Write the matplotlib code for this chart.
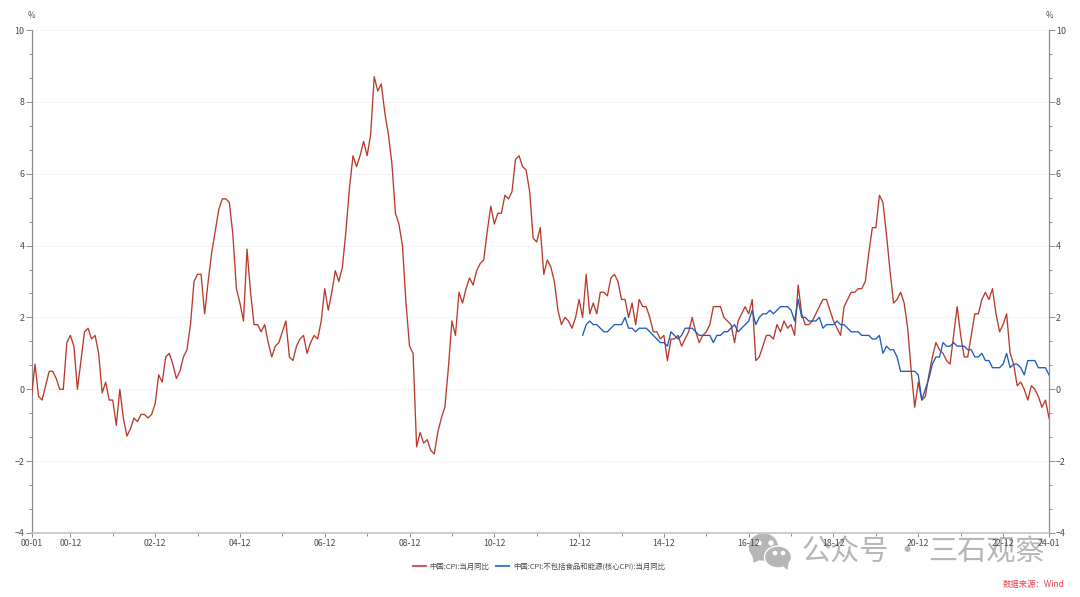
import matplotlib
matplotlib.use("Agg")
import matplotlib.pyplot as plt
from matplotlib.patches import Ellipse, Polygon
from matplotlib.ticker import FixedLocator, NullFormatter

plt.rcParams['font.family'] = ['Noto Sans CJK SC', 'DejaVu Sans']

cpi = [
    -0.2,0.7,-0.2,-0.3,0.1,0.5,0.5,0.3,0.0,0.0,1.3,1.5,
    1.2,0.0,0.8,1.6,1.7,1.4,1.5,1.0,-0.1,0.2,-0.3,-0.3,
    -1.0,0.0,-0.8,-1.3,-1.1,-0.8,-0.9,-0.7,-0.7,-0.8,-0.7,-0.4,
    0.4,0.2,0.9,1.0,0.7,0.3,0.5,0.9,1.1,1.8,3.0,3.2,
    3.2,2.1,3.0,3.8,4.4,5.0,5.3,5.3,5.2,4.3,2.8,2.4,
    1.9,3.9,2.7,1.8,1.8,1.6,1.8,1.3,0.9,1.2,1.3,1.6,
    1.9,0.9,0.8,1.2,1.4,1.5,1.0,1.3,1.5,1.4,1.9,2.8,
    2.2,2.7,3.3,3.0,3.4,4.4,5.6,6.5,6.2,6.5,6.9,6.5,
    7.1,8.7,8.3,8.5,7.7,7.1,6.3,4.9,4.6,4.0,2.4,1.2,
    1.0,-1.6,-1.2,-1.5,-1.4,-1.7,-1.8,-1.2,-0.8,-0.5,0.6,1.9,
    1.5,2.7,2.4,2.8,3.1,2.9,3.3,3.5,3.6,4.4,5.1,4.6,
    4.9,4.9,5.4,5.3,5.5,6.4,6.5,6.2,6.1,5.5,4.2,4.1,
    4.5,3.2,3.6,3.4,3.0,2.2,1.8,2.0,1.9,1.7,2.0,2.5,
    2.0,3.2,2.1,2.4,2.1,2.7,2.7,2.6,3.1,3.2,3.0,2.5,
    2.5,2.0,2.4,1.8,2.5,2.3,2.3,2.0,1.6,1.6,1.4,1.5,
    0.8,1.4,1.4,1.5,1.2,1.4,1.6,2.0,1.6,1.3,1.5,1.6,
    1.8,2.3,2.3,2.3,2.0,1.9,1.8,1.3,1.9,2.1,2.3,2.1,
    2.5,0.8,0.9,1.2,1.5,1.5,1.4,1.8,1.6,1.9,1.7,1.8,
    1.5,2.9,2.1,1.8,1.8,1.9,2.1,2.3,2.5,2.5,2.2,1.9,
    1.7,1.5,2.3,2.5,2.7,2.7,2.8,2.8,3.0,3.8,4.5,4.5,
    5.4,5.2,4.3,3.3,2.4,2.5,2.7,2.4,1.7,0.5,-0.5,0.2,
    -0.3,-0.2,0.4,0.9,1.3,1.1,1.0,0.8,0.7,1.5,2.3,1.5,
    0.9,0.9,1.5,2.1,2.1,2.5,2.7,2.5,2.8,2.1,1.6,1.8,
    2.1,1.0,0.7,0.1,0.2,0.0,-0.3,0.1,0.0,-0.2,-0.5,-0.3,
    -0.8,
]
core = [
    1.5,1.8,1.9,1.8,1.8,1.7,1.6,1.6,1.7,1.8,1.8,1.8,
    2.0,1.7,1.7,1.6,1.7,1.7,1.7,1.6,1.5,1.4,1.3,1.3,
    1.2,1.6,1.5,1.4,1.5,1.7,1.7,1.7,1.6,1.5,1.5,1.5,
    1.5,1.3,1.5,1.5,1.6,1.6,1.7,1.8,1.6,1.7,1.8,1.9,
    2.2,1.8,2.0,2.1,2.1,2.2,2.1,2.2,2.3,2.3,2.3,2.2,
    1.9,2.5,2.0,2.0,1.9,1.9,1.9,2.0,1.7,1.8,1.8,1.8,
    1.9,1.8,1.8,1.7,1.6,1.6,1.6,1.5,1.5,1.5,1.4,1.4,
    1.5,1.0,1.2,1.1,1.1,0.9,0.5,0.5,0.5,0.5,0.5,0.4,
    -0.3,0.0,0.3,0.7,0.9,0.9,1.3,1.2,1.2,1.3,1.2,1.2,
    1.2,1.1,1.1,0.9,0.9,1.0,0.8,0.8,0.6,0.6,0.6,0.7,
    1.0,0.6,0.7,0.7,0.6,0.4,0.8,0.8,0.8,0.6,0.6,0.6,
    0.4,
]
core_start = 156
x_cpi = list(range(len(cpi)))
x_core = list(range(core_start, core_start + len(core)))

x_label_pos = [0, 11, 35, 59, 83, 107, 131, 155, 179, 203, 227, 251, 275, 288]
x_labels = ['00-01', '00-12', '02-12', '04-12', '06-12', '08-12', '10-12', '12-12',
            '14-12', '16-12', '18-12', '20-12', '22-12', '24-01']
x_minor_pos = [23, 47, 71, 95, 119, 143, 167, 191, 215, 239, 263]
y_major = [-4, -2, 0, 2, 4, 6, 8, 10]
y_minor = [v / 3 for v in range(-12, 31, 2) if v % 3 != 0]
name_cpi = '中国:CPI:当月同比'
name_core = '中国:CPI:不包括食品和能源(核心CPI):当月同比'

W, H = 1080, 597
fig = plt.figure(figsize=(W / 100, H / 100), dpi=100, facecolor='white')
L, R, T, B = 31.5, 1049, 30, 533
ax = fig.add_axes([L / W, 1 - B / H, (R - L) / W, (B - T) / H], facecolor='none', zorder=2)
TXT = '#4a4a4a'
AX = '#8c8c8c'

ax.plot(x_cpi, cpi, color='#b93a2b', lw=0.95, label=name_cpi, zorder=3)
ax.plot(x_core, core, color='#1c5cbe', lw=0.95, label=name_core, zorder=4)
ax.set_xlim(0, 288)
ax.set_ylim(-4, 10)

ax.set_yticks(y_major)
ax.yaxis.set_minor_locator(FixedLocator(y_minor))
ax.grid(axis='y', which='major', color='#e9e9e9', lw=0.6, ls=(0, (2.5, 2)), zorder=0)
ax.tick_params(axis='y', which='major', length=4, width=0.7, color=AX, labelsize=6.4,
               labelcolor=TXT, pad=1, left=True, right=True, labelleft=True, labelright=True)
ax.tick_params(axis='y', which='minor', length=2.2, width=0.7, color=AX, left=True, right=True)

ax.set_xticks(x_label_pos)
ax.set_xticklabels(x_labels)
ax.xaxis.set_minor_locator(FixedLocator(x_minor_pos))
ax.xaxis.set_minor_formatter(NullFormatter())
ax.tick_params(axis='x', which='major', length=3, width=0.7, color=AX, labelsize=6.3,
               labelcolor=TXT, pad=1.5)
ax.tick_params(axis='x', which='minor', length=2.2, width=0.7, color=AX)

ax.spines['top'].set_visible(False)
for s in ('left', 'right'):
    ax.spines[s].set_color(AX)
    ax.spines[s].set_linewidth(0.9)
ax.spines['bottom'].set_color('#c4c4c4')
ax.spines['bottom'].set_linewidth(1.2)

leg = ax.legend(loc='center', bbox_to_anchor=((539 - L) / (R - L), (B - 566.5) / (B - T)),
                ncol=2, frameon=False, fontsize=5.35, labelcolor=TXT, handlelength=1.75,
                handletextpad=0.45, columnspacing=0.95, borderpad=0, borderaxespad=0)
for h in leg.get_lines():
    h.set_linewidth(1.5)
    h.set_alpha(0.8)

# underlay in pixel coordinates for annotations and watermark
ov = fig.add_axes([0, 0, 1, 1], facecolor='none', zorder=1)
ov.set_xlim(0, W)
ov.set_ylim(H, 0)
ov.axis('off')
ov.text(31, 15.5, '%', fontsize=5.8, color=TXT, ha='center', va='center')
ov.text(1049, 15.5, '%', fontsize=5.8, color=TXT, ha='center', va='center')
ov.text(1064.5, 584, '数据来源：Wind', fontsize=6, color='#e5424d', ha='right', va='center')

WM = '#b6b6b6'
ov.add_patch(Ellipse((763.5, 547), 28, 26, color=WM, zorder=5))
ov.add_patch(Polygon([[753, 554], [754, 562], [762, 558]], color=WM, zorder=5))
ov.add_patch(Ellipse((778, 557), 27, 22, fc=WM, ec='white', lw=1.0, zorder=6))
ov.add_patch(Polygon([[782, 564], [787, 569], [788, 561]], color=WM, zorder=6))
for cx, cy, r in [(759, 543, 4), (771, 543, 4), (775, 553, 3.2), (783, 553, 3.2)]:
    ov.add_patch(Ellipse((cx, cy), r, r, color='white', zorder=7))
for label, cx in [('公众号', 845), ('·', 907), ('三石观察', 986)]:
    ov.text(cx, 552.5, label, fontsize=21, color=WM, ha='center', va='center', zorder=5)

fig.savefig('out.png', dpi=100, facecolor='white')
